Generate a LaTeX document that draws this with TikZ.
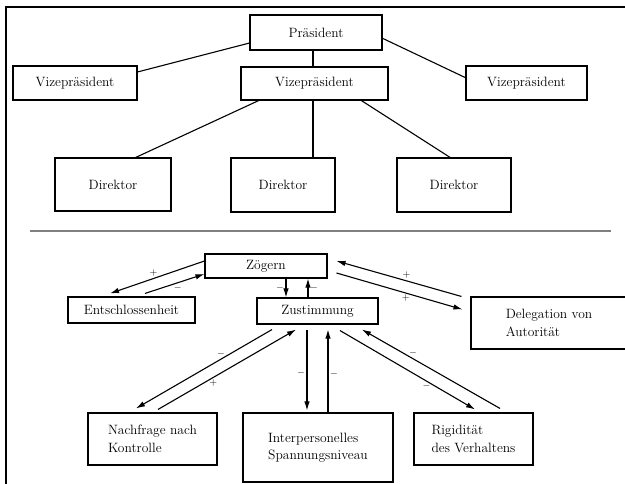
\documentclass[tikz,border=0pt]{standalone}
\usepackage{tikz}
\usetikzlibrary{positioning,
        arrows.meta}
\usepackage{xcolor}

\begin{document}
\begin{tikzpicture}[x=1pt,y=-1pt,
        box/.style={draw,line width=1.1pt,inner sep=0pt,align=left,font=\fontsize{13.5}{17.5}\selectfont},
        pfeil/.style={-{Latex[length=9pt,width=5.5pt]},line width=1.1pt},
        sg/.style={font=\normalsize,inner sep=1.5pt}]
        \useasboundingbox (0,0) rectangle (625,484);
        % Rahmen und Trennlinie
        \draw [line width=1.5pt] (625,7) -- (6,7) -- (6,484);
        \draw [line width=2pt,gray] (30,231) -- (611,231);

        % Organigramm
        \node [box,minimum width=132pt,minimum height=35pt] (praes) at (316,32.5) {Präsident};
        \node [box,minimum width=124pt,minimum height=34pt] (vp1) at (75,83) {Vizepräsident};
        \node [box,minimum width=147pt,minimum height=33pt] (vp2) at (314.5,83.5) {Vizepräsident};
        \node [box,minimum width=121pt,minimum height=34pt] (vp3) at (526.5,83) {Vizepräsident};
        \node [box,minimum width=116pt,minimum height=53pt] (dir1) at (113,184.5) {Direktor};
        \node [box,minimum width=104pt,minimum height=54pt] (dir2) at (283,185) {Direktor};
        \node [box,minimum width=114pt,minimum height=54pt] (dir3) at (454,185) {Direktor};

        \draw [line width=1.1pt] (praes.189) -- (vp1.10);
        \draw [line width=1.1pt] (praes.-5) -- (vp3.175);
        \draw [line width=1.1pt] ([xshift=-3pt]praes.south) -- ([xshift=-1.5pt]vp2.north);
        \draw [line width=1.1pt] (vp2.197) -- (dir1.50);
        \draw [line width=1.1pt] ([xshift=-1.5pt]vp2.south) -- ([xshift=30pt]dir2.north);
        \draw [line width=1.1pt] (vp2.-20) -- (dir3.98);

        % Rueckkopplungen
        \node [box,minimum width=122pt,minimum height=24pt] (zoegern) at (266,266) {Zögern};
        \node [box,minimum width=127pt,minimum height=26pt] (entschl) at (131.5,310) {Entschlossenheit};
        \node [box,minimum width=121pt,minimum height=26pt] (zustimm) at (317.5,311) {Zustimmung};
        \node [box,minimum width=156pt,minimum height=52pt] (deleg) at (549,323) {Delegation von\\Autorität};
        \node [box,minimum width=129pt,minimum height=52pt] (nachfr) at (152.5,439) {Nachfrage nach\\Kontrolle};
        \node [box,minimum width=150pt,minimum height=69pt] (inter) at (318,447.5) {Interpersonelles\\Spannungsniveau};
        \node [box,minimum width=119pt,minimum height=52pt] (rigid) at (473.5,439) {Rigidität\\des Verhaltens};

        \draw [pfeil] ([yshift=5pt]zoegern.west) -- ([shift={(-21.5pt,3pt)}]entschl.north) node [sg,pos=.54,above] {$+$};
        \draw [pfeil] ([shift={(13.5pt,3pt)}]entschl.north) -- ([yshift=-8pt]zoegern.west) node [sg,pos=.55,below] {$-$};
        \draw [pfeil] ([xshift=20pt]zoegern.south) -- ([xshift=-31.5pt]zustimm.north) node [sg,midway,left] {$-$};
        \draw [pfeil] ([xshift=-9.5pt]zustimm.north) -- ([xshift=42pt]zoegern.south) node [sg,midway,right] {$-$};
        \draw [pfeil] ([xshift=-9pt]deleg.north west) -- ([shift={(9pt,5pt)}]zoegern.east) node [sg,pos=.44,above] {$+$};
        \draw [pfeil] ([shift={(9pt,-7pt)}]zoegern.east) -- ([shift={(-8pt,-13pt)}]deleg.north west) node [sg,pos=.55,below] {$+$};

        \draw [pfeil] ([shift={(-45.5pt,-5pt)}]zustimm.south) -- ([shift={(-16.5pt,4pt)}]nachfr.north) node [sg,pos=.375,above] {$-$};
        \draw [pfeil] ([shift={(5.5pt,3pt)}]nachfr.north) -- ([shift={(-21.5pt,-5pt)}]zustimm.south) node [sg,pos=.4,below] {$+$};
        \draw [pfeil] ([shift={(-10.5pt,-5pt)}]zustimm.south) -- ([shift={(-11pt,2pt)}]inter.north) node [sg,pos=.54,left] {$-$};
        \draw [pfeil] ([xshift=10pt]inter.north) -- ([shift={(10.5pt,-5pt)}]zustimm.south) node [sg,pos=.46,right] {$-$};
        \draw [pfeil] ([shift={(22.5pt,-6pt)}]zustimm.south) -- ([shift={(1.5pt,3pt)}]rigid.north) node [sg,pos=.64,below] {$-$};
        \draw [pfeil] ([shift={(26.5pt,4pt)}]rigid.north) -- ([shift={(44.5pt,-5pt)}]zustimm.south) node [sg,pos=.63,above] {$-$};
\end{tikzpicture}
\end{document}
